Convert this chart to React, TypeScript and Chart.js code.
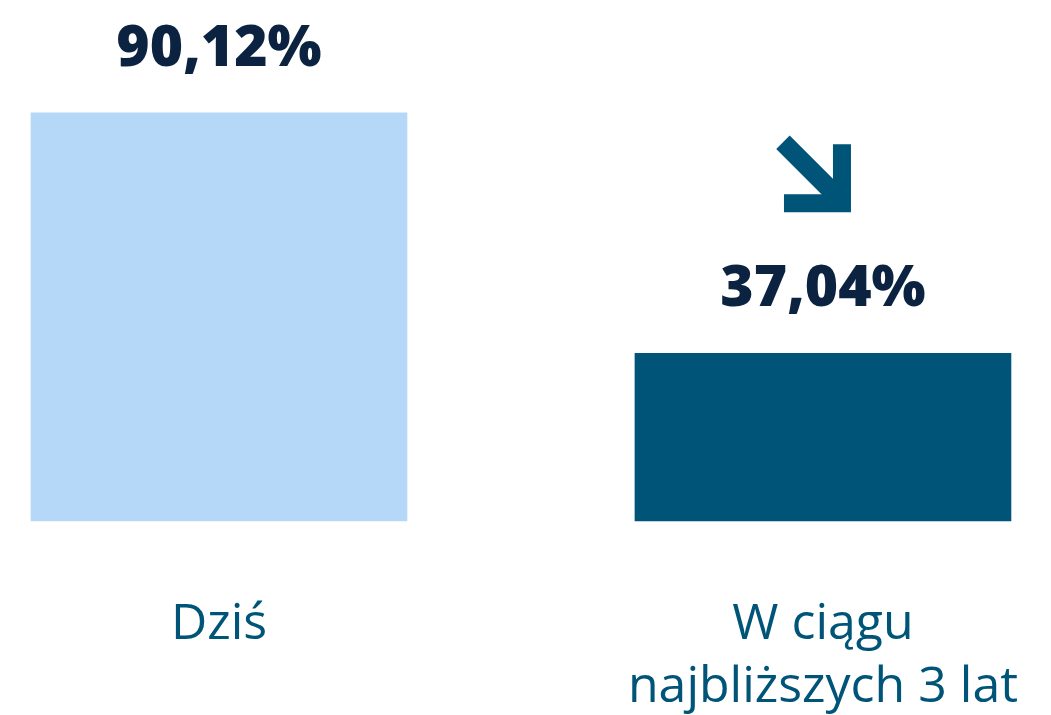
import React, { useEffect, useRef } from "react";
import { Chart, registerables } from "chart.js";

Chart.register(...registerables);

const categories: (string | string[])[] = ["Dziś", ["W ciągu", "najbliższych 3 lat"]];
const values: number[] = [90.12, 37.04];
const valueLabels: string[] = ["90,12%", "37,04%"];
const barColors: string[] = ["#b6d8f8", "#005478"];

const LABEL_COLOR = "#0b2341";
const CAT_COLOR = "#005478";

const labelPlugin = {
  id: "valueLabels",
  afterDatasetsDraw(chart: any) {
    const ctx = chart.ctx;
    const meta = chart.getDatasetMeta(0);
    ctx.save();
    ctx.fillStyle = LABEL_COLOR;
    ctx.font = "800 57px 'Open Sans'";
    ctx.textAlign = "center";
    ctx.textBaseline = "alphabetic";
    meta.data.forEach((bar: any, i: number) => {
      ctx.fillText(valueLabels[i], bar.x, bar.y - 47);
    });
    // down-right arrow above second bar label
    const b = meta.data[1];
    if (b) {
      const ox = b.x;
      const oy = b.y;
      ctx.fillStyle = CAT_COLOR;
      ctx.beginPath();
      ctx.moveTo(ox + 10, oy - 209);
      ctx.lineTo(ox + 28, oy - 209);
      ctx.lineTo(ox + 28, oy - 141);
      ctx.lineTo(ox - 39, oy - 141);
      ctx.lineTo(ox - 39, oy - 159);
      ctx.lineTo(ox + 10, oy - 159);
      ctx.closePath();
      ctx.fill();
      ctx.strokeStyle = CAT_COLOR;
      ctx.lineWidth = 19;
      ctx.lineCap = "butt";
      ctx.beginPath();
      ctx.moveTo(ox - 40, oy - 211);
      ctx.lineTo(ox + 16, oy - 155);
      ctx.stroke();
    }
    ctx.restore();
  },
};

export default function App() {
  const ref = useRef<HTMLCanvasElement | null>(null);
  useEffect(() => {
    if (!ref.current) return;
    const chart = new Chart(ref.current, {
      type: "bar",
      data: {
        labels: categories,
        datasets: [
          {
            data: values,
            backgroundColor: barColors,
            borderWidth: 0,
            barThickness: 376,
            clip: false as any,
          },
        ],
      },
      options: {
        animation: false,
        responsive: false,
        maintainAspectRatio: false,
        layout: { padding: { left: 219, right: 227, top: 68, bottom: 0 } },
        plugins: { legend: { display: false }, tooltip: { enabled: false } },
        scales: {
          x: {
            offset: false,
            grid: { display: false, drawTicks: false },
            border: { display: false },
            ticks: {
              color: CAT_COLOR,
              font: { family: "'Open Sans'", size: 50, weight: "normal", lineHeight: 1.26 },
              padding: 72,
              maxRotation: 0,
              minRotation: 0,
              autoSkip: false,
            },
          },
          y: {
            display: false,
            min: 0,
            max: 100,
          },
        },
      },
      plugins: [labelPlugin],
    });
    return () => chart.destroy();
  }, []);
  return (
    <div style={{ position: "fixed", left: 0, top: 0, width: 1051, height: 715, overflow: "hidden", background: "#fff" }}>
      <canvas ref={ref} width={1090} height={791} />
    </div>
  );
}
